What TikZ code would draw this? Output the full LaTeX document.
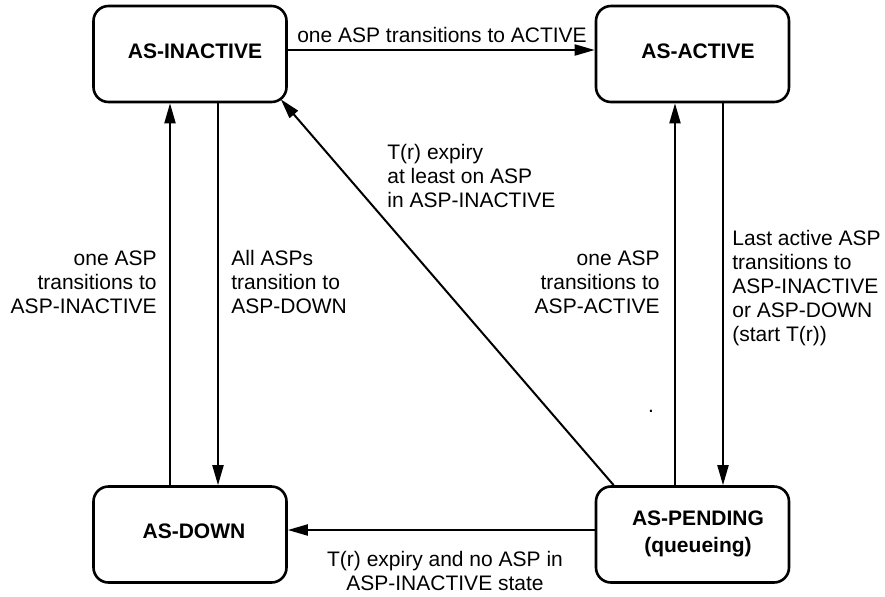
\documentclass[tikz,border=0pt]{standalone}
\usepackage{fontspec}
\setmainfont{Liberation Sans}
\usetikzlibrary{arrows.meta}
\begin{document}
\begin{tikzpicture}[x=0.5pt,y=-0.5pt,
  state/.style={draw, line width=1.3pt, rounded corners=7.5pt, minimum width=96.5pt, minimum height=48pt, inner sep=0pt},
  stlabel/.style={font=\fontsize{10.5pt}{13.5pt}\selectfont\bfseries, align=center, inner sep=0pt},
  lbl/.style={font=\fontsize{10.5pt}{12pt}\selectfont, inner sep=0pt},
  arr/.style={line width=1pt, -{Triangle[length=10pt,width=5.5pt]}}]
\useasboundingbox (0,0) rectangle (885,596);
% states
\node[state] (inactive) at (190,54) {};
\node[state] (active) at (692.5,54) {};
\node[state] (down) at (190,534.5) {};
\node[state] (pending) at (692.5,534.5) {};
\node[stlabel, anchor=base] (tinactive) at (195,58) {AS-INACTIVE};
\node[stlabel, anchor=base] (tactive) at (698,58) {AS-ACTIVE};
\node[stlabel, anchor=base] (tdown) at (194,538) {AS-DOWN};
\node[stlabel, anchor=base] (tpending) at (698,552) {AS-PENDING\\(queueing)};
% transitions
\draw[arr] ([yshift=2pt]inactive.east) -- ([yshift=2pt]active.west);
\draw[arr] ([xshift=-10pt]down.north) -- ([xshift=-10pt]inactive.south);
\draw[arr] ([xshift=14pt]inactive.south) -- ([xshift=14pt]down.north);
\draw[arr] ([xshift=-8.75pt]pending.north) -- ([xshift=-8.75pt]active.south);
\draw[arr] ([xshift=15.25pt]active.south) -- ([xshift=15.25pt]pending.north);
\draw[arr] ([xshift=9.5pt]pending.north west) -- ([xshift=-3.5pt,yshift=2pt]inactive.south east);
\draw[arr] ([yshift=2.25pt]pending.west) -- ([yshift=2.25pt]down.east);
% labels
\node[lbl, anchor=base] (ltop) at (442,42) {one ASP transitions to ACTIVE};
\node[lbl, anchor=base east, align=right] (l1) at (157,313) {one ASP\\transitions to\\ASP-INACTIVE};
\node[lbl, anchor=base west, align=left] (l2) at (231,313) {All ASPs\\transition to\\ASP-DOWN};
\node[lbl, anchor=base west, align=left] (l3) at (387,207) {T(r) expiry\\at least on ASP\\in ASP-INACTIVE};
\node[lbl, anchor=base east, align=right] (l4) at (660,313) {one ASP\\transitions to\\ASP-ACTIVE};
\node[lbl, anchor=base west, align=left] (l5) at (732,341) {Last active ASP\\transitions to\\ASP-INACTIVE\\or ASP-DOWN\\(start T(r))};
\node[lbl, anchor=base, align=center] (l6) at (445,590) {T(r) expiry and no ASP in\\ASP-INACTIVE state};
\node[lbl, anchor=base] (dot) at (651,412) {.};
\end{tikzpicture}
\end{document}
